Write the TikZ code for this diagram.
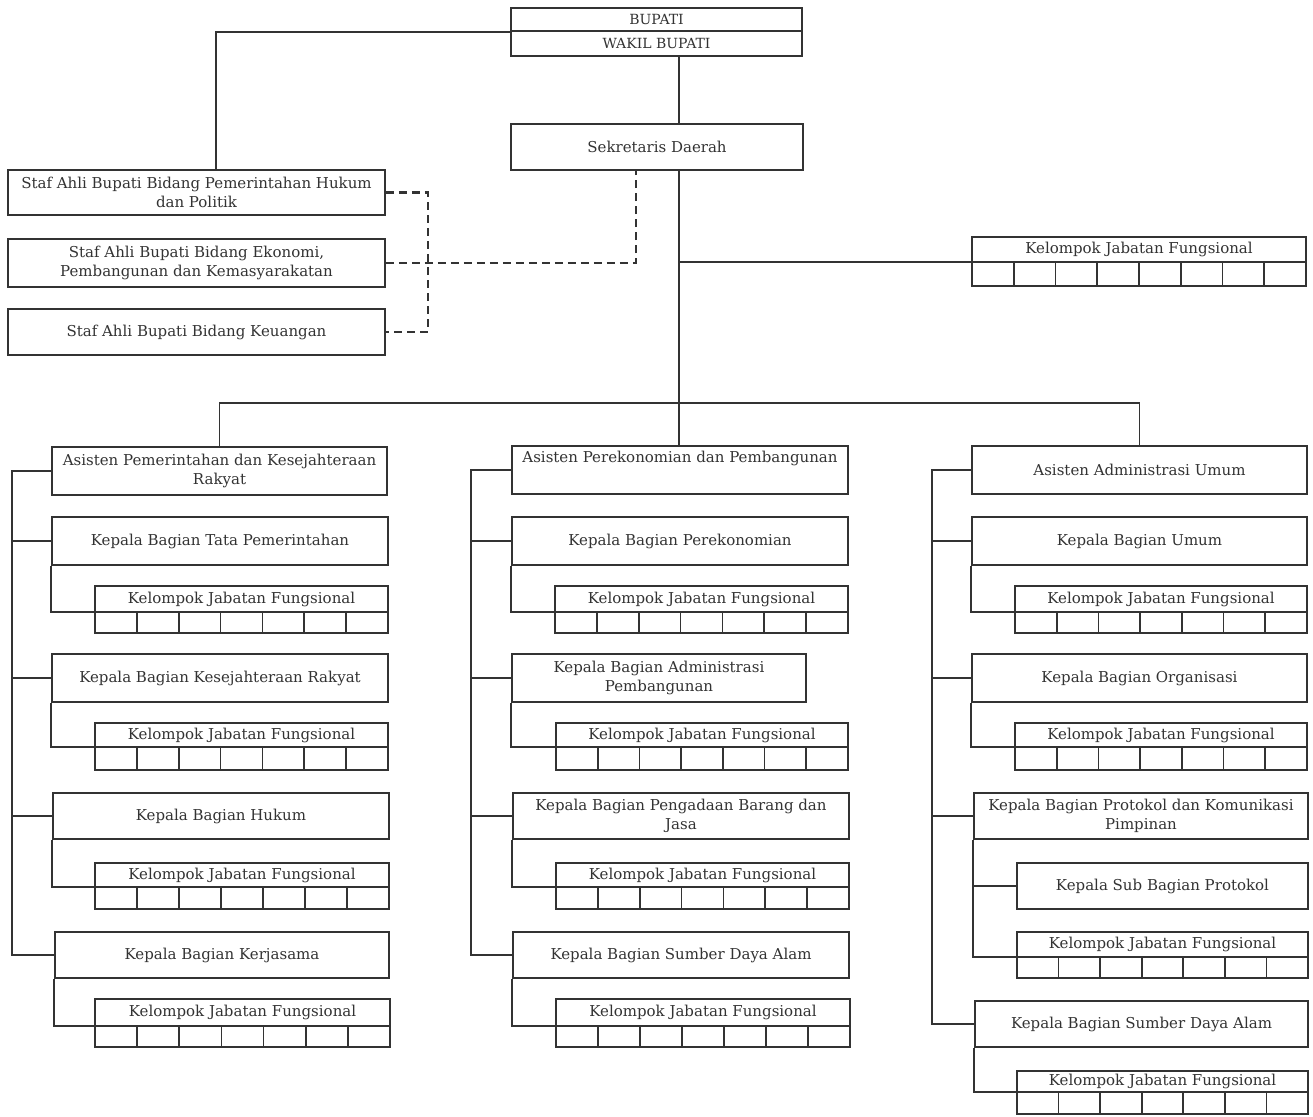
\documentclass[tikz,border=0pt]{standalone}
\usepackage{fontspec}
\setmainfont{DejaVu Serif}
\definecolor{ink}{gray}{0.2}
\tikzset{
  ln/.style={draw=ink, line width=1.8pt},
  box/.style={ln, inner sep=0pt, align=center, text=ink, font=\fontsize{15}{19}\selectfont},
  lbl/.style={inner sep=0pt, text=ink, font=\fontsize{15}{19}\selectfont},
  dsh/.style={draw=ink, line width=2.2pt, dash pattern=on 8pt off 5pt},
}
\newcommand{\bx}[7][]{\node[box,minimum width={#5-#3},minimum height={#6-#4},#1] (#2) at ({(#3+#5)/2},{(#4+#6)/2}) {#7};}
\newcommand{\kjf}[7]{%
  \node[box,minimum width={#4-#2},minimum height={#6-#3}] (#1) at ({(#2+#4)/2},{(#3+#6)/2}) {};
  \coordinate (#1d) at (#2,#5);
  \node[lbl] (#1t) at ({(#2+#4)/2},{(#3+#5)/2}) {Kelompok Jabatan Fungsional};
  \draw[ln] (#2,#5) -- (#4,#5);
  \pgfmathtruncatemacro{\nm}{#7-1}
  \foreach \i in {1,...,\nm}{\draw[ln] ({#2+(#4-#2)*\i/#7},#5) -- ({#2+(#4-#2)*\i/#7},#6);}
}
\begin{document}
\begin{tikzpicture}[x=1pt,y=-1pt]
\fill[white] (0,0) rectangle (1313,1116);
\useasboundingbox (0,0) rectangle (1313,1116);

% top
\bx[font=\fontsize{14}{16}\selectfont]{bup}{511}{8}{802}{31}{BUPATI}
\bx[font=\fontsize{14}{16}\selectfont]{wak}{511}{31}{802}{56}{WAKIL BUPATI}
\bx{sekr}{511}{124}{803}{170}{Sekretaris Daerah}
\bx{staf1}{8}{170}{385}{215}{Staf Ahli Bupati Bidang Pemerintahan Hukum\\dan Politik}
\bx{staf2}{8}{239}{385}{287}{Staf Ahli Bupati Bidang Ekonomi,\\Pembangunan dan Kemasyarakatan}
\bx{staf3}{8}{309}{385}{355}{Staf Ahli Bupati Bidang Keuangan}
\kjf{kjt}{972}{237}{1306}{262}{286}{8}

% column 1
\bx{a1}{52}{447}{387}{495}{Asisten Pemerintahan dan Kesejahteraan\\Rakyat}
\bx{b11}{52}{517}{388}{565}{Kepala Bagian Tata Pemerintahan}
\kjf{k11}{95}{586}{388}{612}{633}{7}
\bx{b12}{52}{654}{388}{702}{Kepala Bagian Kesejahteraan Rakyat}
\kjf{k12}{95}{723}{388}{747}{770}{7}
\bx{b13}{53}{793}{389}{839}{Kepala Bagian Hukum}
\kjf{k13}{95}{863}{389}{887}{909}{7}
\bx{b14}{55}{932}{389}{978}{Kepala Bagian Kerjasama}
\kjf{k14}{95}{999}{390}{1026}{1047}{7}

% column 2
\bx[label={[lbl,anchor=north,yshift=-6pt]north:Asisten Perekonomian dan Pembangunan}]{a2}{512}{446}{848}{494}{}
\bx{b21}{512}{517}{848}{565}{Kepala Bagian Perekonomian}
\kjf{k21}{555}{586}{848}{612}{633}{7}
\bx{b22}{512}{654}{806}{702}{Kepala Bagian Administrasi\\Pembangunan}
\kjf{k22}{556}{723}{848}{747}{770}{7}
\bx{b23}{513}{793}{849}{839}{Kepala Bagian Pengadaan Barang dan\\Jasa}
\kjf{k23}{556}{863}{849}{887}{909}{7}
\bx{b24}{513}{932}{849}{978}{Kepala Bagian Sumber Daya Alam}
\kjf{k24}{556}{999}{850}{1026}{1047}{7}

% column 3
\bx{a3}{972}{446}{1307}{494}{Asisten Administrasi Umum}
\bx{b31}{972}{517}{1307}{565}{Kepala Bagian Umum}
\kjf{k31}{1015}{586}{1307}{612}{633}{7}
\bx{b32}{972}{654}{1307}{702}{Kepala Bagian Organisasi}
\kjf{k32}{1015}{723}{1307}{747}{770}{7}
\bx{b33}{974}{793}{1308}{839}{Kepala Bagian Protokol dan Komunikasi\\Pimpinan}
\bx{s33}{1017}{863}{1308}{909}{Kepala Sub Bagian Protokol}
\kjf{k33}{1017}{932}{1308}{957}{978}{7}
\bx{b34}{975}{1001}{1308}{1047}{Kepala Bagian Sumber Daya Alam}
\kjf{k34}{1017}{1071}{1308}{1092}{1114}{7}

% coordinates
\coordinate (s1top) at (216,170);
\coordinate (trunk) at (679,403);
\coordinate (dv) at (428,0);
\coordinate (sekd) at (636,170);
\coordinate (c1) at (12,0);
\coordinate (c2) at (471,0);
\coordinate (c3) at (932,0);

% top connectors
\draw[ln] (bup.south west) -| (s1top);
\draw[ln] (wak.south -| trunk) -- (sekr.north -| trunk);
\draw[ln] (sekr.south -| trunk) -- (trunk);
\draw[ln] (kjtd) -- (kjtd -| trunk);
\draw[ln] (a1.north) |- (trunk) -| (a3.north);
\draw[ln] (trunk) -- (a2.north -| trunk);

% dashed staff lines
\draw[dsh] (staf1.east) -| (dv |- staf3.east) -- (staf3.east);
\draw[dsh] (staf2.east) -| (sekd);

% column buses
\draw[ln] (a1.west) -| (c1 |- b14.west) -- (b14.west);
\foreach \b in {b11,b12,b13} \draw[ln] (\b.west) -- (\b.west -| c1);
\draw[ln] (a2.west) -| (c2 |- b24.west) -- (b24.west);
\foreach \b in {b21,b22,b23} \draw[ln] (\b.west) -- (\b.west -| c2);
\draw[ln] (a3.west) -| (c3 |- b34.west) -- (b34.west);
\foreach \b in {b31,b32,b33} \draw[ln] (\b.west) -- (\b.west -| c3);

% kepala to kelompok
\draw[ln] (b11.south west) |- (k11d);
\draw[ln] (b12.south west) |- (k12d);
\draw[ln] (b13.south west) |- (k13d);
\draw[ln] (b14.south west) |- (k14d);
\draw[ln] (b21.south west) |- (k21d);
\draw[ln] (b22.south west) |- (k22d);
\draw[ln] (b23.south west) |- (k23d);
\draw[ln] (b24.south west) |- (k24d);
\draw[ln] (b31.south west) |- (k31d);
\draw[ln] (b32.south west) |- (k32d);
\draw[ln] (b33.south west) |- (k33d);
\draw[ln] (s33.west) -- (s33.west -| b33.south west);
\draw[ln] (b34.south west) |- (k34d);
\end{tikzpicture}
\end{document}
